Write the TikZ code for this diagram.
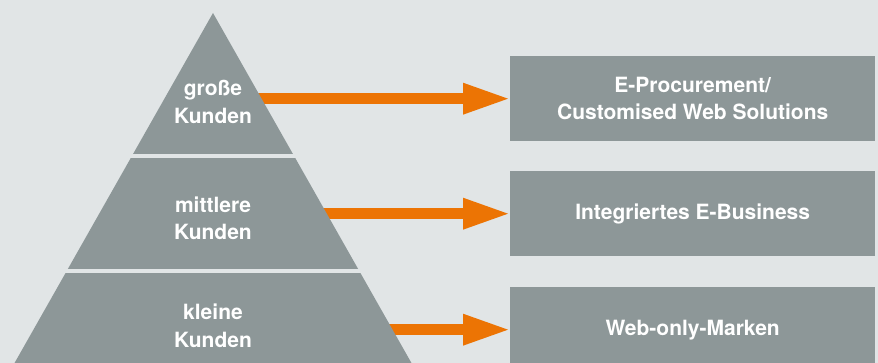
\documentclass[tikz,border=0pt]{standalone}
\usepackage{fontspec}
\setmainfont{TeX Gyre Heros}
\usetikzlibrary{arrows.meta}
\definecolor{bgc}{RGB}{225,229,230}
\definecolor{slate}{RGB}{141,151,152}
\definecolor{amber}{RGB}{236,116,4}
\pgfdeclarelayer{bglayer}
\pgfdeclarelayer{arrowlayer}
\pgfsetlayers{bglayer,arrowlayer,main}
\begin{document}
\begin{tikzpicture}[x=1pt,y=-1pt,
  tiertext/.style={text=white,font=\bfseries\fontsize{21}{27.5}\selectfont,align=center,inner sep=0pt},
  offer/.style={fill=slate,text=white,font=\bfseries\fontsize{21}{27}\selectfont,align=center,
    minimum width=365pt,minimum height=85pt,inner sep=0pt,anchor=north west},
  flow/.style={draw=amber,line width=11pt,shorten >=2pt,
    -{Triangle[length=45pt,width=32pt,line width=0pt]}}]
\useasboundingbox (0,0) rectangle (878,363);
\begin{pgfonlayer}{bglayer}
  \fill[bgc] (0,0) rectangle (878,363);
\end{pgfonlayer}
\clip (0,0) rectangle (878,363);

% pyramid, split into three tiers by two thin gaps
\fill[slate] (213,13) -- (421.1,380) -- (4.9,380) -- cycle;
\draw[bgc,line width=4pt] (0,156) -- (440,156);
\draw[bgc,line width=4pt] (0,271) -- (440,271);

% tier labels
\node[tiertext] (t1) at (213,102) {große\\Kunden};
\node[tiertext] (t2) at (213,218.5) {mittlere\\Kunden};
\node[tiertext] (t3) at (213,326) {kleine\\Kunden};

% offer boxes
\node[offer] (b1) at (510,56) {E-Procurement/\\Customised Web Solutions};
\node[offer] (b2) at (510,171) {Integriertes E-Business};
\node[offer] (b3) at (510,287) {Web-only-Marken};

% arrows from each tier to its offer (start hidden behind the pyramid)
\begin{pgfonlayer}{arrowlayer}
  \draw[flow] (t1.center |- b1.west) -- (b1.west);
  \draw[flow] (t2.center |- b2.west) -- (b2.west);
  \draw[flow] (t3.center |- b3.west) -- (b3.west);
\end{pgfonlayer}
\end{tikzpicture}
\end{document}
